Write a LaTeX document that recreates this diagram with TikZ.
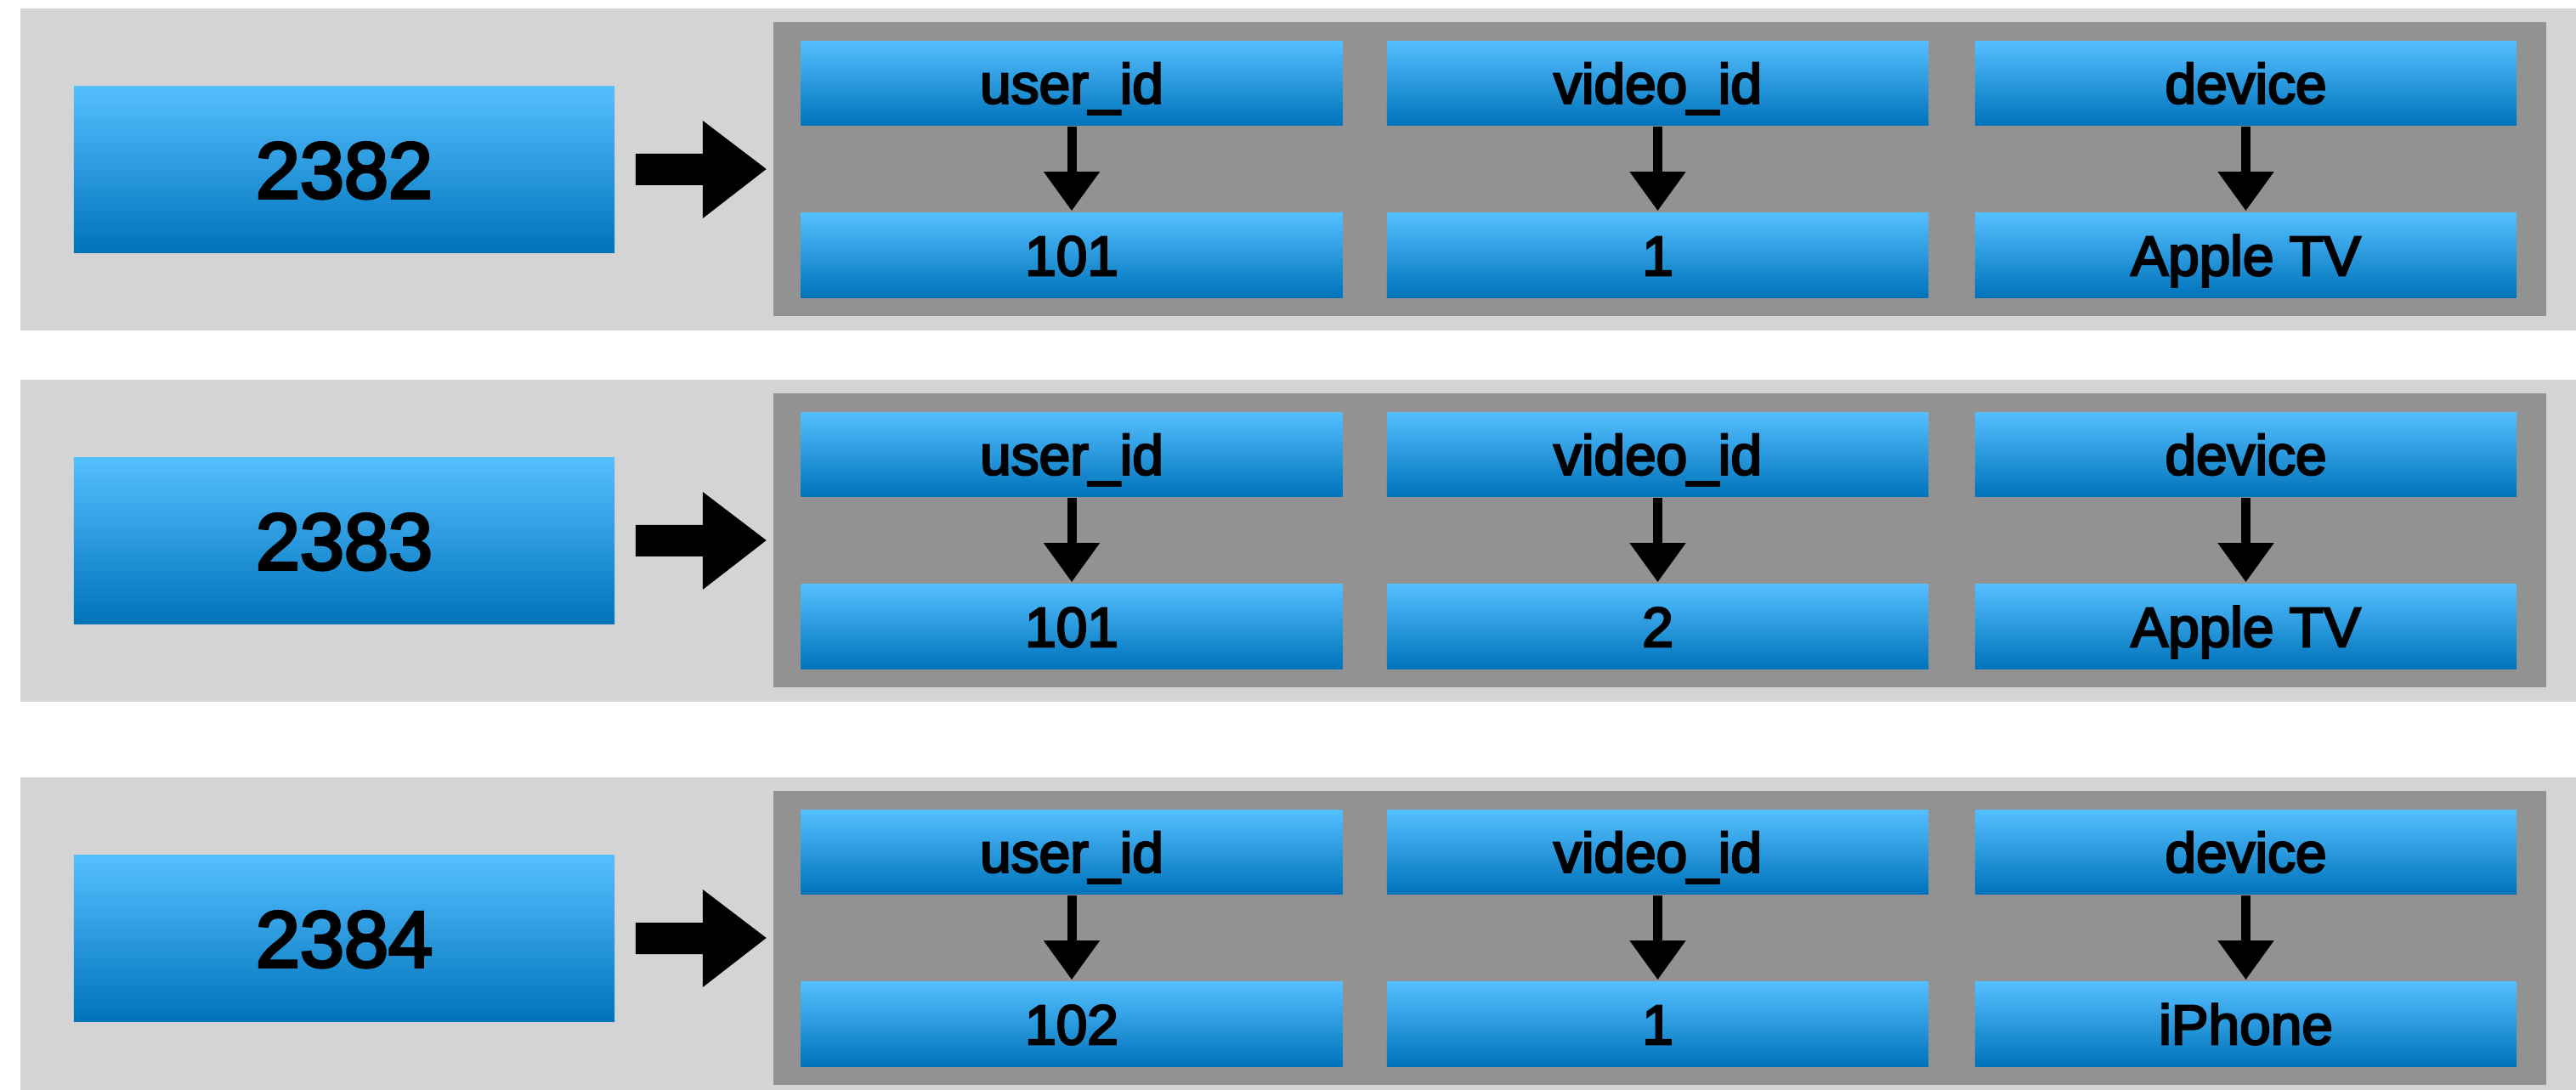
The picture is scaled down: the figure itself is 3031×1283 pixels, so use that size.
\documentclass[tikz,border=0pt]{standalone}
\usepackage{fontspec}
\setmainfont{Liberation Sans}
\newcommand{\heavytext}[2]{\special{pdf:literal direct 2 Tr #1 w}#2\special{pdf:literal direct 0 Tr}}
\usetikzlibrary{arrows.meta}
\definecolor{bandgrey}{RGB}{212,212,212}
\definecolor{panelgrey}{RGB}{146,146,146}
\definecolor{celltop}{RGB}{84,191,255}
\definecolor{cellbot}{RGB}{0,115,187}
\begin{document}
\begin{tikzpicture}[x=0.01cm,y=-0.01cm,
  band/.style={fill=bandgrey},
  panel/.style={rectangle, inner sep=0pt, fill=panelgrey, minimum width=20.84cm, minimum height=3.46cm},
  cell/.style={rectangle, inner sep=0pt, top color=celltop, bottom color=cellbot,
    minimum width=6.37cm, minimum height=0.99cm, text height=13.4pt, text depth=0pt,
    font=\fontsize{18.7}{20}\selectfont},
  idcell/.style={cell, minimum width=6.36cm, minimum height=1.95cm, text height=19.05pt,
    font=\fontsize{26.6}{28}\selectfont},
  down/.style={-{Triangle[length=0.46cm,width=0.63cm]}, line width=0.11cm,
    shorten <=0.01cm, shorten >=0.02cm},
  blockarrow/.style={fill=black}]
\path[use as bounding box] (0,0) rectangle (3031,1283);
\clip (0,0) rectangle (3031,1283);
\fill[white] (0,0) rectangle (3031,1283);
\foreach \oy/\id/\u/\v/\d [count=\i] in {0/2382/101/1/Apple TV,437/2383/101/2/Apple TV,905/2384/102/1/iPhone}{
  \fill[band] (24,10+\oy) rectangle (3031,389+\oy);
  \node[panel] (panel\i) at (1953,199+\oy) {};
  \node[idcell] (id\i) at (405,199.5+\oy) {\heavytext{1.0}{\id}};
  \node[cell] (ku\i) at (1261,98+\oy) {\heavytext{0.7}{user\_id}};
  \node[cell] (kv\i) at (1950.5,98+\oy) {\heavytext{0.7}{video\_id}};
  \node[cell] (kd\i) at (2642.5,98+\oy) {\heavytext{0.7}{device}};
  \node[cell] (vu\i) at (1261,300.5+\oy) {\heavytext{0.7}{\u}};
  \node[cell] (vv\i) at (1950.5,300.5+\oy) {\heavytext{0.7}{\v}};
  \node[cell] (vd\i) at (2642.5,300.5+\oy) {\heavytext{0.7}{\d}};
  \draw[down] (ku\i.south) -- (vu\i.north);
  \draw[down] (kv\i.south) -- (vv\i.north);
  \draw[down] (kd\i.south) -- (vd\i.north);
  \fill[blockarrow] ([shift={(24,-18.5)}]id\i.east) -- ([shift={(103,-18.5)}]id\i.east)
    -- ([shift={(103,-57.5)}]id\i.east) -- ([shift={(-8,0)}]panel\i.west)
    -- ([shift={(103,57.5)}]id\i.east) -- ([shift={(103,18.5)}]id\i.east)
    -- ([shift={(24,18.5)}]id\i.east) -- cycle;
}
\end{tikzpicture}
\end{document}
